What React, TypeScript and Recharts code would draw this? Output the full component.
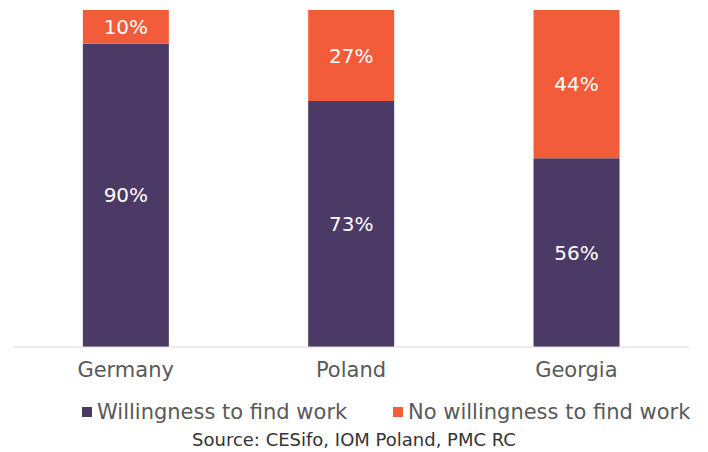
import { BarChart, Bar, XAxis, YAxis, LabelList } from "recharts";

// ─── Data ─────────────────────────────────────────────────────────────────────

const countries = ["Germany", "Poland", "Georgia"];
const willing = [90, 73, 56];
const notWilling = [10, 27, 44];

const seriesNames = ["Willingness to find work", "No willingness to find work"];
const sourceNote = "Source: CESifo, IOM Poland, PMC RC";

const PURPLE = "#4b3a66";
const ORANGE = "#f25c3b";
const FONT = "'DejaVu Sans', Verdana, sans-serif";

const data = countries.map((c, i) => ({
  country: c,
  willing: willing[i],
  notWilling: notWilling[i],
}));

// ─── Component ────────────────────────────────────────────────────────────────

export default function App() {
  const labelStyle = { fill: "#ffffff", fontSize: 20, fontFamily: FONT };
  return (
    <div
      style={{
        position: "absolute",
        left: 0,
        top: 0,
        width: 708,
        height: 452,
        background: "#ffffff",
        fontFamily: FONT,
      }}
    >
      <BarChart
        width={708}
        height={452}
        data={data}
        margin={{ top: 10, right: 19, left: 13, bottom: 75 }}
        barCategoryGap="31%"
      >
        <XAxis
          dataKey="country"
          height={30}
          axisLine={{ stroke: "#d9d9d9", strokeWidth: 1 }}
          tickLine={false}
          tickMargin={9}
          tick={{ fontSize: 21, fill: "#595959", fontFamily: FONT }}
        />
        <YAxis hide domain={[0, 100]} />
        <Bar dataKey="willing" stackId="a" fill={PURPLE} isAnimationActive={false}>
          <LabelList
            dataKey="willing"
            position="center"
            formatter={(v: number) => `${v}%`}
            style={labelStyle}
          />
        </Bar>
        <Bar dataKey="notWilling" stackId="a" fill={ORANGE} isAnimationActive={false}>
          <LabelList
            dataKey="notWilling"
            position="center"
            formatter={(v: number) => `${v}%`}
            style={labelStyle}
          />
        </Bar>
      </BarChart>

      {/* Legend */}
      {[PURPLE, ORANGE].map((color, i) => (
        <div
          key={seriesNames[i]}
          style={{
            position: "absolute",
            top: 399,
            left: i === 0 ? 82 : 393,
            display: "flex",
            alignItems: "center",
            fontSize: 21,
            lineHeight: "26px",
            color: "#595959",
            whiteSpace: "nowrap",
          }}
        >
          <span
            style={{
              display: "inline-block",
              width: 10,
              height: 10,
              background: color,
              marginRight: 5,
            }}
          />
          {seriesNames[i]}
        </div>
      ))}

      {/* Source */}
      <div
        style={{
          position: "absolute",
          top: 429,
          left: 0,
          width: 708,
          textAlign: "center",
          fontSize: 18,
          lineHeight: "22px",
          color: "#333333",
        }}
      >
        {sourceNote}
      </div>
    </div>
  );
}
